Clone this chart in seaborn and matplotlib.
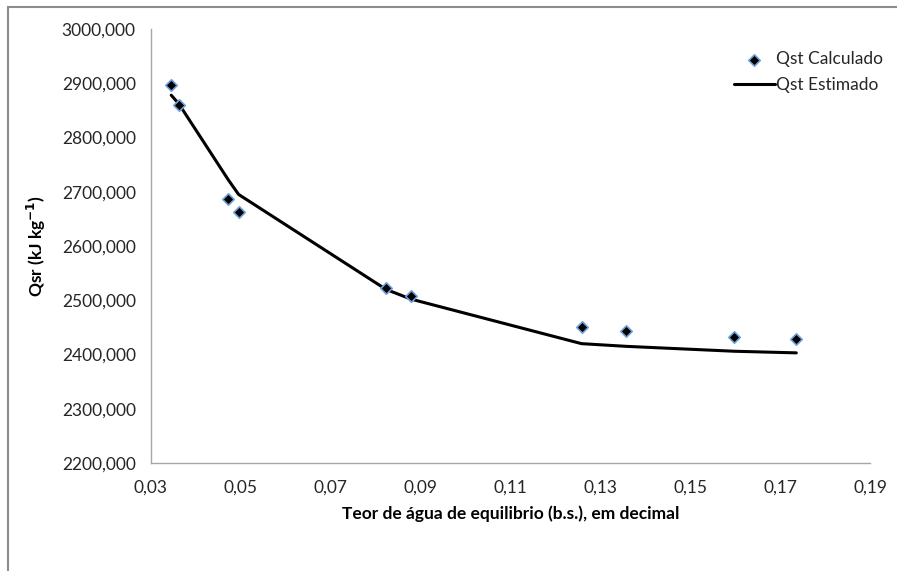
import matplotlib
matplotlib.use('Agg')
import matplotlib.pyplot as plt
import matplotlib.patches as mpatches
from matplotlib.ticker import FuncFormatter
import numpy as np
import pandas as pd
import seaborn as sns

# teor de agua de equilibrio (b.s.) e calor isosterico
teor_agua = [0.0345, 0.0362, 0.0472, 0.0495, 0.0823, 0.0879, 0.1258, 0.1358, 0.1598, 0.1736]
qst_calculado = [2897, 2860, 2686, 2663, 2522, 2508, 2450, 2443, 2433, 2428]
qst_estimado = [2878, 2862, 2722, 2695, 2520, 2502, 2420, 2415, 2406, 2403]

x_ticks = [0.03, 0.05, 0.07, 0.09, 0.11, 0.13, 0.15, 0.17, 0.19]
y_ticks = [2200, 2300, 2400, 2500, 2600, 2700, 2800, 2900, 3000]

df = pd.DataFrame({'teor': teor_agua, 'calc': qst_calculado, 'est': qst_estimado})

sns.set_theme(style='white')
plt.rcParams['font.family'] = ['Lato', 'DejaVu Sans']

fig = plt.figure(figsize=(8.97, 5.71), dpi=100)
ax = fig.add_axes([151 / 897, 1 - 463 / 571, (870 - 151) / 897, (463 - 29) / 571])

sns.lineplot(data=df, x='teor', y='est', ax=ax, color='black', linewidth=2.2,
             label='Qst Estimado', zorder=2)
sns.scatterplot(data=df, x='teor', y='calc', ax=ax, marker='D', s=34, color='black',
                edgecolor='#6f9fd8', linewidth=1.2, label='Qst Calculado', zorder=3)

ax.set_xlim(0.03, 0.19)
ax.set_ylim(2200, 3000)
ax.set_xticks(x_ticks)
ax.set_yticks(y_ticks)
ax.xaxis.set_major_formatter(FuncFormatter(lambda v, p: f'{v:.2f}'.replace('.', ',')))
ax.yaxis.set_major_formatter(FuncFormatter(lambda v, p: f'{v:.3f}'.replace('.', ',')))

for side in ['top', 'right']:
    ax.spines[side].set_visible(False)
for side in ['left', 'bottom']:
    ax.spines[side].set_color('#a6a6a6')
    ax.spines[side].set_linewidth(1.0)
ax.tick_params(axis='both', which='major', direction='out', length=5, width=1,
               color='#a6a6a6', labelsize=12.5, labelcolor='#262626', pad=6)
ax.tick_params(axis='x', pad=7)

ax.set_xlabel('Teor de água de equilibrio (b.s.), em decimal', fontsize=12.5,
              fontweight='bold', color='black', labelpad=7)
ax.set_ylabel('Qsr (kJ kg$^{\\mathbf{-1}}$)', fontsize=12.5, fontweight='bold',
              color='black', labelpad=10)

handles, labels = ax.get_legend_handles_labels()
order = [labels.index('Qst Calculado'), labels.index('Qst Estimado')]
ax.legend([handles[i] for i in order], [labels[i] for i in order], loc='upper right',
          bbox_to_anchor=(1.04, 0.985), frameon=False, fontsize=12.5, handlelength=2.4,
          handletextpad=0.05, labelspacing=0.55)

# moldura do grafico
border = mpatches.Rectangle((8 / 897, -0.05), 1.0, 1 - 7 / 571 + 0.05,
                            transform=fig.transFigure, fill=False,
                            edgecolor='#8c8c8c', linewidth=1.5)
fig.patches.append(border)

fig.savefig('out.png', dpi=100)
